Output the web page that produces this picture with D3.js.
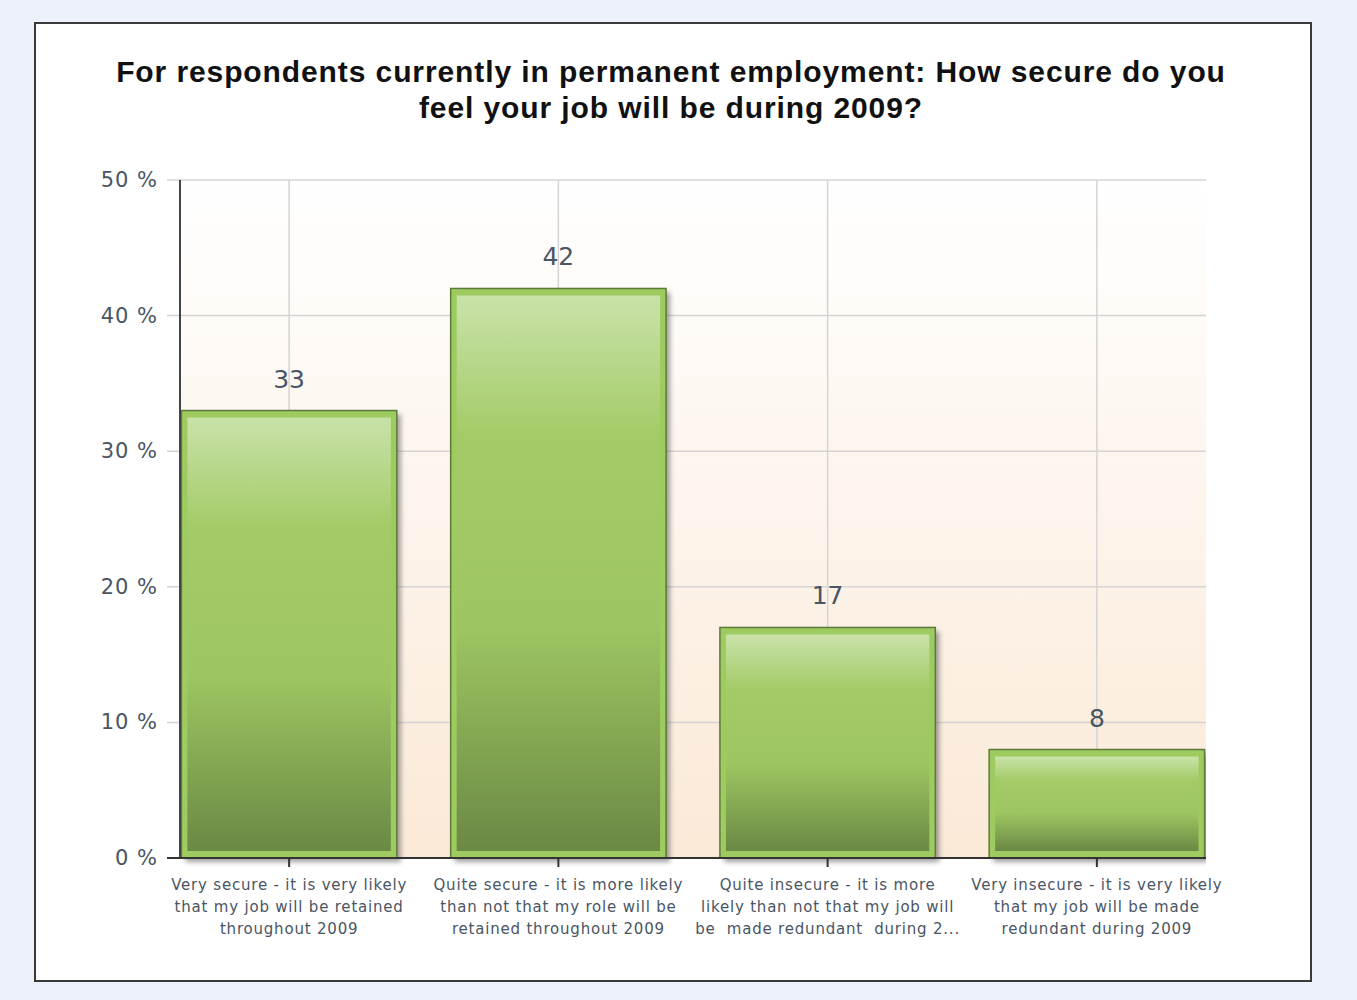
<!DOCTYPE html>
<html lang="en">
<head>
<meta charset="utf-8">
<title>Job security 2009</title>
<script src="https://cdn.jsdelivr.net/npm/d3@7"></script>
<style>
  body { margin: 0; background: #edf1f9; }
  svg { display: block; }
  .catlabel { white-space: pre; }
</style>
</head>
<body>
<div id="chart"></div>
<script>
// data
var categories = ["Very secure", "Quite secure", "Quite insecure", "Very insecure"];
var values = [33, 42, 17, 8];
var labelLines = [
  ["Very secure - it is very likely", "that my job will be retained", "throughout 2009"],
  ["Quite secure - it is more likely", "than not that my role will be", "retained throughout 2009"],
  ["Quite insecure - it is more", "likely than not that my job will", "be  made redundant  during 2..."],
  ["Very insecure - it is very likely", "that my job will be made", "redundant during 2009"]
];
var yTicks = [0, 10, 20, 30, 40, 50];
var titleLines = ["For respondents currently in permanent employment: How secure do you",
                  "feel your job will be during 2009?"];

var w = 1357, h = 1000;
var plot = {left: 180, right: 1206, top: 180, bottom: 858};
var textCol = "#4a5564";

var svg = d3.select("#chart").append("svg")
  .attr("width", w).attr("height", h);

var defs = svg.append("defs");

var bg = defs.append("linearGradient").attr("id", "bgGrad")
  .attr("x1", 0).attr("y1", 0).attr("x2", 0).attr("y2", 1);
bg.append("stop").attr("offset", "0%").attr("stop-color", "#ffffff");
bg.append("stop").attr("offset", "100%").attr("stop-color", "#fbe9d7");

var barGrad = defs.append("linearGradient").attr("id", "barGrad")
  .attr("x1", 0).attr("y1", 0).attr("x2", 0).attr("y2", 1);
barGrad.append("stop").attr("offset", "0%").attr("stop-color", "#c9e2a8");
barGrad.append("stop").attr("offset", "25%").attr("stop-color", "#a4cb68");
barGrad.append("stop").attr("offset", "60%").attr("stop-color", "#9dc561");
barGrad.append("stop").attr("offset", "100%").attr("stop-color", "#6a8944");

var blur = defs.append("filter").attr("id", "shadow")
  .attr("x", "-10%").attr("y", "-10%").attr("width", "130%").attr("height", "130%");
blur.append("feGaussianBlur").attr("stdDeviation", 2.5);

defs.append("clipPath").attr("id", "plotClip")
  .append("rect")
  .attr("x", plot.left).attr("y", plot.top - 10)
  .attr("width", plot.right - plot.left).attr("height", plot.bottom - plot.top + 20);

// white panel
svg.append("rect")
  .attr("x", 35).attr("y", 23).attr("width", 1276).attr("height", 958)
  .attr("fill", "#ffffff").attr("stroke", "#3a3a3a").attr("stroke-width", 2);

// title
svg.append("g").selectAll("text")
  .data(titleLines).enter().append("text")
  .attr("x", 671)
  .attr("y", function(d, i) { return 82 + i * 36; })
  .attr("text-anchor", "middle")
  .attr("font-family", "Liberation Sans, Arial, sans-serif")
  .attr("font-weight", "bold")
  .attr("font-size", 30)
  .attr("letter-spacing", 0.9)
  .attr("fill", "#111")
  .text(function(d) { return d; });

var x = d3.scaleBand()
  .domain(categories)
  .range([154.5, 1231.5])
  .paddingInner(0.2)
  .paddingOuter(0.1);

var y = d3.scaleLinear().domain([0, 50]).range([plot.bottom, plot.top]);

// plot background
svg.append("rect")
  .attr("x", plot.left).attr("y", plot.top)
  .attr("width", plot.right - plot.left).attr("height", plot.bottom - plot.top)
  .attr("fill", "url(#bgGrad)");

// grid
svg.append("g").selectAll("line.h")
  .data(yTicks.filter(function(t) { return t > 0; })).enter().append("line")
  .attr("x1", plot.left - 13).attr("x2", plot.right)
  .attr("y1", function(d) { return y(d); }).attr("y2", function(d) { return y(d); })
  .attr("stroke", "#d4d4d4").attr("stroke-width", 1.5);

svg.append("g").selectAll("line.v")
  .data(categories).enter().append("line")
  .attr("x1", function(d) { return x(d) + x.bandwidth() / 2; })
  .attr("x2", function(d) { return x(d) + x.bandwidth() / 2; })
  .attr("y1", plot.top).attr("y2", plot.bottom)
  .attr("stroke", "#d4d4d4").attr("stroke-width", 1.5);

// y tick labels
svg.append("g").selectAll("text")
  .data(yTicks).enter().append("text")
  .attr("x", 158)
  .attr("y", function(d) { return y(d) + 7; })
  .attr("text-anchor", "end")
  .attr("font-family", "DejaVu Sans, sans-serif")
  .attr("font-size", 21)
  .attr("letter-spacing", 1)
  .attr("fill", textCol)
  .text(function(d) { return d + " %"; });

// bars
var bars = svg.append("g").attr("clip-path", "url(#plotClip)")
  .selectAll("g").data(values).enter().append("g");

bars.append("rect")
  .attr("x", function(d, i) { return x(categories[i]) + 4; })
  .attr("y", function(d) { return y(d) + 4; })
  .attr("width", x.bandwidth())
  .attr("height", function(d) { return y(0) - y(d); })
  .attr("fill", "#555").attr("opacity", 0.55)
  .attr("filter", "url(#shadow)");

bars.append("rect")
  .attr("x", function(d, i) { return x(categories[i]); })
  .attr("y", function(d) { return y(d); })
  .attr("width", x.bandwidth())
  .attr("height", function(d) { return y(0) - y(d); })
  .attr("fill", "#9dcb5f").attr("stroke", "#5c7a3a").attr("stroke-width", 1.5);

bars.append("rect")
  .attr("x", function(d, i) { return x(categories[i]) + 6; })
  .attr("y", function(d) { return y(d) + 7; })
  .attr("width", x.bandwidth() - 12)
  .attr("height", function(d) { return y(0) - y(d) - 14; })
  .attr("fill", "url(#barGrad)");

// axes lines
svg.append("line")
  .attr("x1", plot.left).attr("x2", plot.left)
  .attr("y1", plot.top).attr("y2", plot.bottom)
  .attr("stroke", "#444").attr("stroke-width", 2);
svg.append("line")
  .attr("x1", plot.left - 13).attr("x2", plot.right)
  .attr("y1", plot.bottom).attr("y2", plot.bottom)
  .attr("stroke", "#333").attr("stroke-width", 2);
svg.append("g").selectAll("line")
  .data(categories).enter().append("line")
  .attr("x1", function(d) { return x(d) + x.bandwidth() / 2; })
  .attr("x2", function(d) { return x(d) + x.bandwidth() / 2; })
  .attr("y1", plot.bottom).attr("y2", plot.bottom + 9)
  .attr("stroke", "#333").attr("stroke-width", 2);

// value labels
svg.append("g").selectAll("text")
  .data(values).enter().append("text")
  .attr("x", function(d, i) { return x(categories[i]) + x.bandwidth() / 2; })
  .attr("y", function(d) { return y(d) - 23; })
  .attr("text-anchor", "middle")
  .attr("font-family", "DejaVu Sans, sans-serif")
  .attr("font-size", 25)
  .attr("fill", textCol)
  .text(function(d) { return d; });

// category labels
var cat = svg.append("g").selectAll("text")
  .data(labelLines).enter().append("text")
  .attr("class", "catlabel")
  .attr("text-anchor", "middle")
  .attr("font-family", "DejaVu Sans, sans-serif")
  .attr("font-size", 15)
  .attr("letter-spacing", 0.8)
  .attr("fill", textCol);

cat.selectAll("tspan")
  .data(function(d, i) { return d.map(function(l) { return {line: l, i: i}; }); })
  .enter().append("tspan")
  .attr("x", function(d) { return x(categories[d.i]) + x.bandwidth() / 2; })
  .attr("y", function(d, j) { return 890 + j * 22; })
  .text(function(d) { return d.line; });
</script>
</body>
</html>
